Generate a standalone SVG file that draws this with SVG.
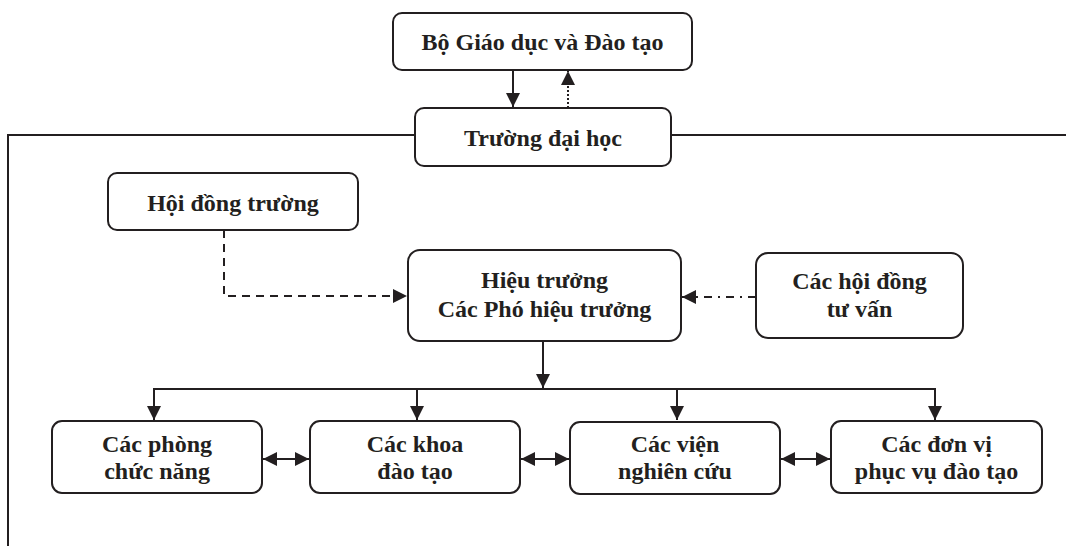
<svg xmlns="http://www.w3.org/2000/svg" width="1066" height="546" viewBox="0 0 1066 546">
<style>
.box{fill:#fff;stroke:#231f20;stroke-width:2}
.t{font-family:"Liberation Serif","Times New Roman",serif;font-weight:bold;font-size:24px;fill:#231f20;text-anchor:middle}
.c{fill:none;stroke:#231f20;stroke-width:2}
.dash{stroke-dasharray:8 6}
.dot{stroke-dasharray:2 2}
.dd{stroke-dasharray:8 6 2 6}
</style>
<defs>
<marker id="ah" markerUnits="userSpaceOnUse" markerWidth="15" markerHeight="15" refX="14" refY="7.5" orient="auto-start-reverse" viewBox="0 0 15 15">
<path d="M0,0.5 L14,7.5 L0,14.5 Z" fill="#231f20"/>
</marker>
</defs>
<rect width="1066" height="546" fill="#fff"/>
<g id="connectors">
<path class="c" d="M415,135 H8 V546"/>
<path class="c" d="M671,135 H1066"/>
<path class="c" d="M513,70 V107" marker-end="url(#ah)"/>
<path class="c dot" d="M568,108 V71" marker-end="url(#ah)"/>
<path class="c dash" d="M224,230 V296 H407" marker-end="url(#ah)"/>
<path class="c dd" d="M756,297 H682" marker-end="url(#ah)"/>
<path class="c" d="M543,341 V388" marker-end="url(#ah)"/>
<path class="c" d="M154,420 V389 H935 V420" marker-end="url(#ah)"/>
<path class="c" d="M417,389 V420" marker-end="url(#ah)"/>
<path class="c" d="M677,389 V420" marker-end="url(#ah)"/>
<path class="c" d="M154,389 V420" marker-end="url(#ah)"/>
<path class="c" d="M263,459 H309" marker-start="url(#ah)" marker-end="url(#ah)"/>
<path class="c" d="M521,459 H569" marker-start="url(#ah)" marker-end="url(#ah)"/>
<path class="c" d="M781,459 H830" marker-start="url(#ah)" marker-end="url(#ah)"/>
</g>
<g id="bo">
<rect class="box" x="393" y="13" width="299" height="57" rx="9"/>
<text class="t" x="542.5" y="50">Bộ Giáo dục và Đào tạo</text>
</g>
<g id="truong">
<rect class="box" x="415" y="108" width="256" height="58" rx="9"/>
<text class="t" x="543" y="146">Trường đại học</text>
</g>
<g id="hoidongtruong">
<rect class="box" x="108" y="173" width="250" height="57" rx="9"/>
<text class="t" x="233" y="211">Hội đồng trường</text>
</g>
<g id="hieutruong">
<rect class="box" x="408" y="250" width="273" height="91" rx="12"/>
<text class="t" x="544.5" y="288">Hiệu trưởng</text>
<text class="t" x="544.5" y="317">Các Phó hiệu trưởng</text>
</g>
<g id="tuvan">
<rect class="box" x="756" y="253" width="207" height="85" rx="12"/>
<text class="t" x="859.5" y="289">Các hội đồng</text>
<text class="t" x="859.5" y="317">tư vấn</text>
</g>
<g id="phong">
<rect class="box" x="52" y="421" width="210" height="72" rx="10"/>
<text class="t" x="157" y="452">Các phòng</text>
<text class="t" x="157" y="479">chức năng</text>
</g>
<g id="khoa">
<rect class="box" x="310" y="421" width="210" height="72" rx="10"/>
<text class="t" x="415" y="452">Các khoa</text>
<text class="t" x="415" y="479">đào tạo</text>
</g>
<g id="vien">
<rect class="box" x="570" y="422" width="210" height="72" rx="10"/>
<text class="t" x="675" y="452">Các viện</text>
<text class="t" x="675" y="479">nghiên cứu</text>
</g>
<g id="donvi">
<rect class="box" x="831" y="421" width="211" height="72" rx="10"/>
<text class="t" x="936.5" y="452">Các đơn vị</text>
<text class="t" x="936.5" y="479">phục vụ đào tạo</text>
</g>
</svg>
